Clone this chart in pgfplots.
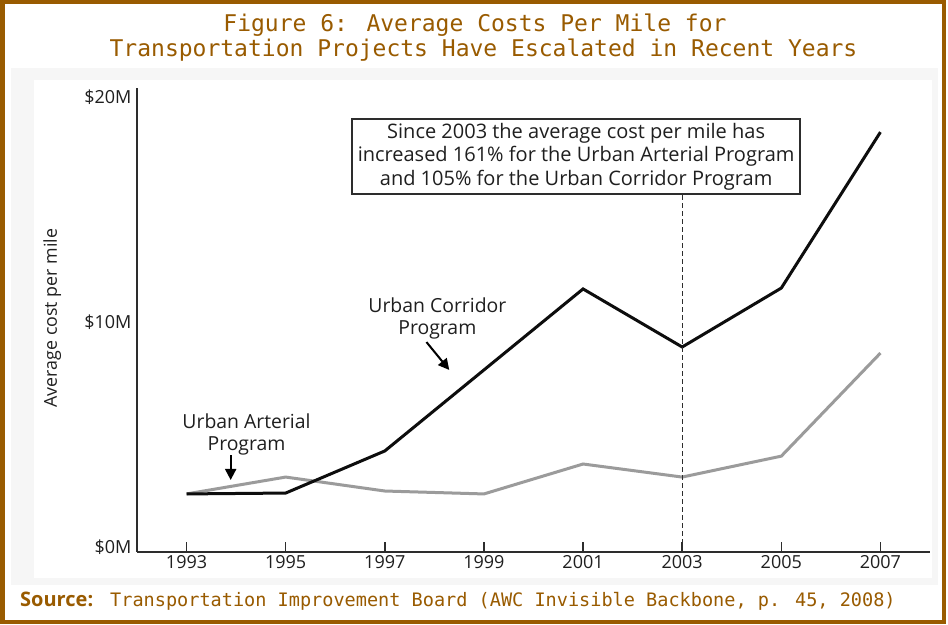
\documentclass[border=0pt]{standalone}
\usepackage{pgfplots}
\pgfplotsset{compat=1.18}
\usepackage{fontspec}
\setmainfont{Open Sans}
\newfontfamily\mono{DejaVu Sans Mono}
\usetikzlibrary{arrows.meta}
\definecolor{brn}{RGB}{153,91,0}
\definecolor{panel}{RGB}{246,246,246}
\definecolor{gline}{RGB}{155,155,155}
\definecolor{axc}{RGB}{45,45,45}
\begin{document}
\begin{tikzpicture}[x=1pt,y=1pt]
\useasboundingbox (0,0) rectangle (948,624);
\fill[white] (0,0) rectangle (948,624);
\fill[panel] (11,39) rectangle (938,556);
\fill[white] (34,46) rectangle (932,544);
\draw[brn, line width=4.5pt] (2.25,2.25) rectangle (943.75,621.75);
\node[brn, font=\mono\fontsize{23}{25}\selectfont, anchor=base, inner sep=0] at (475,592) {Figure 6: Average Costs Per Mile for};
\node[brn, font=\mono\fontsize{23}{25}\selectfont, anchor=base, inner sep=0] at (483.5,567) {Transportation Projects Have Escalated in Recent Years};
\node[brn, font=\bfseries\fontsize{20}{22}\selectfont, anchor=base west, inner sep=0] at (20,17) {Source:};
\node[brn, font=\mono\fontsize{18.55}{20}\selectfont, anchor=base west, inner sep=0] at (110,17) {Transportation Improvement Board (AWC Invisible Backbone, p. 45, 2008)};
\begin{axis}[
  at={(137pt,72pt)}, anchor=south west, scale only axis,
  width=793pt, height=464pt,
  xmin=1992, xmax=2008, ymin=-0.22, ymax=20.4,
  axis lines*=left,
  axis line style={-, line width=1.6pt, axc},
  xtick={1993,1995,1997,1999,2001,2003,2005,2007},
  xticklabels={1993,1995,1997,1999,2001,2003,2005,2007},
  x tick label style={font=\fontsize{18}{20}\selectfont, text=black!88},
  ytick={0,10,20},
  yticklabels={\$0M,\$10M,\$20M},
  y tick label style={font=\fontsize{18}{20}\selectfont, text=black!88, xshift=-2pt},
  ytick style={draw=none},
  xtick style={axc, line width=1.4pt},
  major tick length=10pt, tick align=inside,
  ylabel={Average cost per mile},
  ylabel style={at={(axis description cs:-0.107,0.504)}, anchor=center, font=\fontsize{17.8}{20}\selectfont, text=black!88},
  clip=false,
]
\addplot[gline, line width=3pt] coordinates {(1993,2.36)(1995,3.11)(1997,2.49)(1999,2.36)(2001,3.69)(2003,3.11)(2005,4.04)(2007,8.62)};
\addplot[black!95, line width=3pt] coordinates {(1993,2.36)(1995,2.40)(1997,4.27)(1999,7.87)(2001,11.47)(2003,8.89)(2005,11.51)(2007,18.44)};
\draw[dash pattern=on 5pt off 3pt, line width=1.2pt, axc] (axis cs:2003,-0.22) -- (axis cs:2003,15.69);
\node[draw=axc, line width=1.3pt, fill=white, minimum width=448pt, minimum height=75pt, align=center, inner sep=0, text=black!88, font=\fontsize{20}{23.5}\selectfont] at (axis cs:2000.86,17.36) {Since 2003 the average cost per mile has\\increased 161\% for the Urban Arterial Program\\and 105\% for the Urban Corridor Program};
\node[align=center, text=black!88, font=\fontsize{19.4}{22}\selectfont] at (axis cs:1998.06,10.16) {Urban Corridor\\Program};
\draw[line width=2pt, -{Triangle[length=11pt,width=11pt]}] (axis cs:1997.84,9.11) -- (axis cs:1998.30,7.87);
\node[align=center, text=black!88, font=\fontsize{19.4}{22}\selectfont] at (axis cs:1994.21,5.02) {Urban Arterial\\Program};
\draw[line width=2pt, -{Triangle[length=11pt,width=11pt]}] (axis cs:1993.89,4.09) -- (axis cs:1993.89,2.98);
\end{axis}
\end{tikzpicture}
\end{document}
